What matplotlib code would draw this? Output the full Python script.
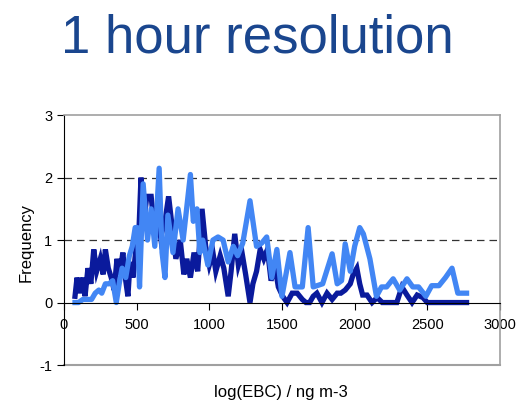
import matplotlib
matplotlib.use("Agg")
from matplotlib import pyplot as plt

plt.rcParams['font.family'] = ['Liberation Sans', 'DejaVu Sans']
plt.rcParams['axes.unicode_minus'] = False

# dark series: frequency vs log(EBC)
ebc_dark = [76, 90, 110, 130, 145, 165, 185, 205, 225, 250, 270, 285, 305, 325, 345,
            365, 385, 405, 425, 440, 455, 475, 495, 515, 530, 550, 570, 600, 625, 645,
            665, 695, 720, 745, 770, 800, 825, 845, 870, 895, 920, 950, 975, 1000, 1025,
            1045, 1075, 1100, 1130, 1150, 1175, 1200, 1225, 1250, 1280, 1300, 1325, 1350,
            1375, 1400, 1425, 1450, 1475, 1505, 1535, 1570, 1605, 1640, 1665, 1690, 1715,
            1740, 1775, 1810, 1845, 1880, 1905, 1935, 1970, 1990, 2015, 2035, 2055, 2085,
            2120, 2155, 2190, 2290, 2325, 2360, 2395, 2430, 2470, 2500, 2770]
freq_dark = [0.1, 0.4, 0.15, 0.4, 0.1, 0.55, 0.3, 0.85, 0.5, 0.7, 0.45, 0.85, 0.55, 0.4, 0.2,
             0.7, 0.45, 0.8, 0.35, 0.1, 0.65, 0.4, 0.85, 1.1, 2.0, 1.3, 1.7, 1.7, 1.1, 1.4,
             1.05, 1.3, 1.7, 1.2, 0.7, 1.0, 0.45, 0.7, 0.4, 0.8, 0.5, 1.5, 0.9, 0.6, 0.8,
             0.5, 0.75, 0.55, 0.1, 0.5, 1.1, 0.6, 0.8, 0.45, 0.0, 0.3, 0.5, 0.85,
             0.7, 0.85, 0.35, 0.6, 0.25, 0.1, 0.0, 0.15, 0.15, 0.05, 0.0, 0.0, 0.1,
             0.15, 0.0, 0.15, 0.05, 0.15, 0.15, 0.2, 0.3, 0.45, 0.55, 0.3, 0.12, 0.12,
             0.0, 0.08, 0.0, 0.0, 0.25, 0.12, 0.0, 0.12, 0.08, 0.0, 0.0]

# light series
ebc_light = [76, 100, 130, 160, 190, 215, 240, 260, 285, 310, 335, 360, 380, 400, 425,
             450, 470, 490, 505, 520, 545, 575, 600, 625, 655, 675, 695, 715, 750, 785,
             820, 870, 890, 915, 935, 955, 990, 1025, 1060, 1095, 1130, 1165, 1195, 1230,
             1280, 1325, 1360, 1395, 1430, 1465, 1500, 1555, 1590, 1640, 1680, 1715, 1780,
             1845, 1880, 1910, 1935, 1970, 2000, 2035, 2060, 2105, 2150, 2185, 2220, 2265,
             2310, 2360, 2400, 2440, 2490, 2530, 2580, 2625, 2670, 2710, 2770]
freq_light = [0.0, 0.0, 0.05, 0.05, 0.05, 0.15, 0.2, 0.15, 0.3, 0.3, 0.35, 0.0, 0.3, 0.55, 0.4,
              0.75, 0.9, 1.2, 1.2, 0.25, 1.9, 1.0, 1.5, 0.9, 2.15, 0.8, 0.4, 1.4, 0.8, 1.5,
              1.0, 2.05, 1.3, 1.5, 0.8, 1.0, 0.6, 1.0, 1.05, 1.0, 0.65, 0.9, 0.75, 0.95,
              1.63, 0.9, 0.95, 1.05, 0.4, 0.85, 0.1, 0.8, 0.25, 0.25, 1.2, 0.25, 0.3,
              0.78, 0.3, 0.35, 0.94, 0.5, 0.9, 1.2, 1.1, 0.7, 0.1, 0.25, 0.25, 0.38,
              0.2, 0.38, 0.25, 0.25, 0.1, 0.27, 0.27, 0.4, 0.55, 0.15, 0.15]

fig = plt.figure(figsize=(5.2, 4.04), dpi=100)
ax = fig.add_axes([0.123, 0.0965, 0.8385, 0.6185])

ax.plot(ebc_dark, freq_dark, color='#0a1a9c', linewidth=3.8, solid_joinstyle='miter')
ax.plot(ebc_light, freq_light, color='#4286f4', linewidth=3.8)

ax.set_xlim(0, 3000)
ax.set_ylim(-1, 3)
ax.set_xticks(range(0, 3001, 500))
ax.set_yticks(range(-1, 4))

# dashed grid lines at 1 and 2
for yv in (1, 2):
    ax.axhline(yv, color='#333333', linestyle=(0, (6, 4)), linewidth=0.9, zorder=0)

# frame: grey box, black y axis and black x axis through zero
for side in ('top', 'right'):
    ax.spines[side].set_color('#a0a0a0')
    ax.spines[side].set_linewidth(1.2)
ax.spines['left'].set_color('black')
ax.spines['bottom'].set_position(('data', 0))
ax.spines['bottom'].set_color('black')
ax.axhline(-1, color='#a0a0a0', linewidth=1.5, clip_on=False, zorder=0)

ax.tick_params(axis='both', direction='out', length=5, labelsize=10.5, width=0.8)
ax.tick_params(axis='x', pad=6)

fig.text(0.494, 0.869, "1 hour resolution", fontsize=38, color='#1a468e',
         ha='center', va='baseline')
fig.text(0.05, 0.40, "Frequency", fontsize=12, rotation=90, ha='center', va='center')
fig.text(0.54, 0.018, "log(EBC) / ng m-3", fontsize=12, ha='center', va='baseline')

plt.savefig("out.png", dpi=100)
